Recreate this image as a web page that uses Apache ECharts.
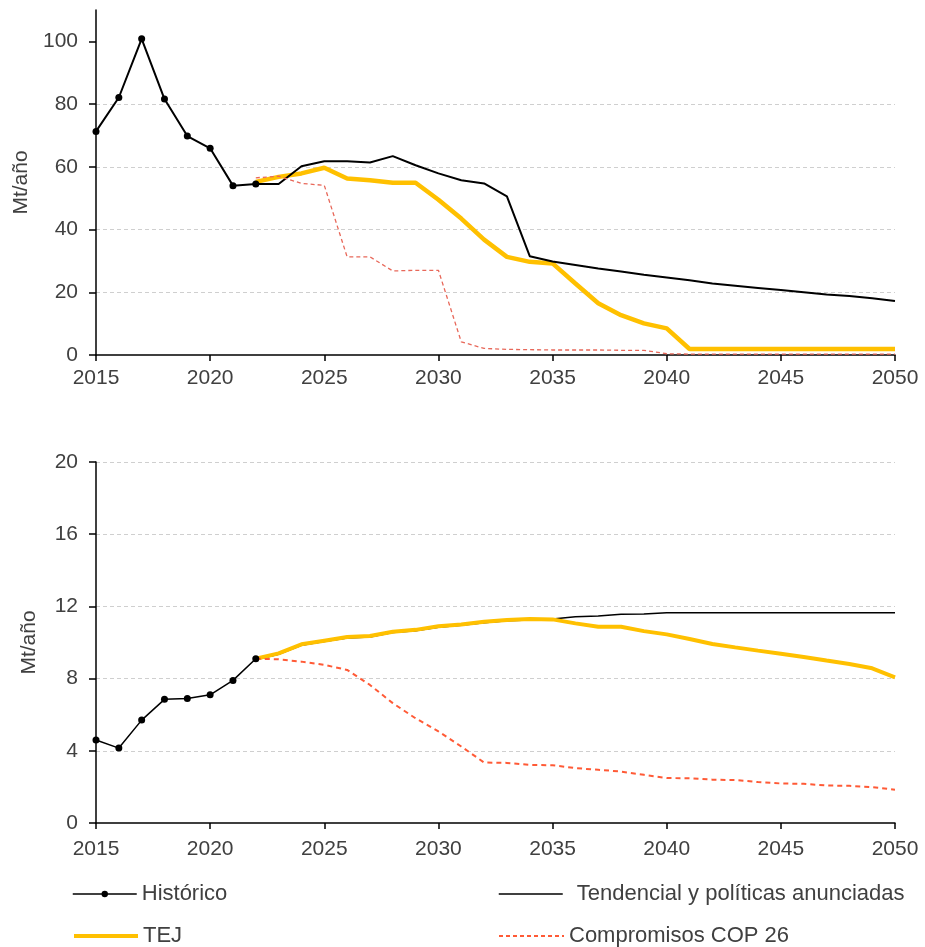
<!DOCTYPE html>
<html lang="es">
<head>
    <meta charset="UTF-8">
    <title>Mt/año</title>
    <script src="https://cdn.jsdelivr.net/npm/echarts@6/dist/echarts.min.js"></script>
</head>
<style>
    body{ margin:0; background:#fff; }
    #chart{ width:925px; height:947px; }
</style>
<body>
    <div id="chart"></div>
    <script>
        // datos grafico superior (Mt/año)
        var histYears=[2015,2016,2017,2018,2019,2020,2021,2022];
        var topHist=[71.3,82.1,100.8,81.6,69.8,65.9,54,54.5];
        // proyecciones 2022-2050
        var topTend=[54.5,54.5,60.2,61.8,61.8,61.4,63.4,60.5,57.9,55.7,54.7,50.6,31.5,29.8,
                     28.7,27.6,26.6,25.6,24.7,23.8,22.8,22.1,21.4,20.7,20.0,19.3,18.8,18.1,17.2];
        var topTej=[55.2,56.8,57.9,59.7,56.3,55.7,54.9,54.9,49.5,43.5,36.8,31.3,29.7,29.2,
                    22.8,16.5,12.7,10.1,8.5,1.9,1.9,1.9,1.9,1.9,1.9,1.9,1.9,1.9,1.9];
        var topCop=[56.5,57,54.7,54.1,31.3,31.3,26.8,27,27,4.2,2.1,1.8,1.7,1.6,
                    1.6,1.6,1.5,1.5,0.4,0.3,0.3,0.3,0.3,0.3,0.3,0.3,0.3,0.3,0.3];

        // datos grafico inferior
        var botHist=[4.6,4.15,5.7,6.85,6.9,7.1,7.9,9.1];
        var botTend=[9.05,9.35,9.85,10.05,10.25,10.3,10.55,10.65,10.85,10.95,11.1,11.2,11.25,11.3,
                     11.43,11.47,11.56,11.58,11.65,11.65,11.65,11.65,11.65,11.65,11.65,11.65,11.65,11.65,11.65];
        var botTej=[9.1,9.4,9.9,10.1,10.3,10.36,10.6,10.7,10.9,11.0,11.15,11.25,11.3,11.28,
                    11.06,10.87,10.87,10.63,10.45,10.19,9.92,9.73,9.55,9.38,9.2,9.0,8.81,8.57,8.07];
        var botCop=[9.1,9.07,8.94,8.76,8.48,7.65,6.64,5.8,5.07,4.24,3.35,3.33,3.22,3.2,
                    3.04,2.95,2.85,2.67,2.49,2.48,2.4,2.38,2.27,2.19,2.17,2.08,2.06,1.99,1.84];

        var projStart=2022;
        var font='Liberation Sans, Arial, sans-serif';
        var txtColor='#404040';

        function pairs(start,vals){
            return vals.map(function(v,i){ return [start+i,v]; });
        }
        function xAx(idx,margin){
            return {
                gridIndex:idx, type:'value', min:2015, max:2050, interval:5,
                axisLine:{ onZero:false, lineStyle:{ color:'#000', width:1.5 } },
                axisTick:{ show:true, length:6, lineStyle:{ color:'#000', width:1.5 } },
                axisLabel:{ color:txtColor, fontSize:21, fontFamily:font, margin:margin,
                            formatter:function(v){ return String(v); } },
                splitLine:{ show:false }
            };
        }
        function yAx(idx,max,step,ticks){
            return {
                gridIndex:idx, type:'value', min:0, max:max, interval:step,
                name:'Mt/año', nameLocation:'middle', nameGap:56,
                nameTextStyle:{ color:txtColor, fontSize:21, fontFamily:font },
                axisLine:{ show:true, lineStyle:{ color:'#000', width:1.5 } },
                axisTick:{ show:true, length:7, customValues:ticks, lineStyle:{ color:'#000', width:1.5 } },
                axisLabel:{ color:txtColor, fontSize:21, fontFamily:font, margin:18, customValues:ticks },
                splitLine:{ show:true, showMinLine:false, showMaxLine:max==20, lineStyle:{ color:'#cfcfcf', type:[4,3], width:1 } }
            };
        }
        var legText={ color:txtColor, fontSize:22, fontFamily:font };
        var noDot={ opacity:0 };

        var chart=echarts.init(document.getElementById('chart'));
        chart.setOption({
            animation:false,
            grid:[
                { left:96, right:30, top:10, height:345 },
                { left:96, right:30, top:462, height:361 }
            ],
            xAxis:[xAx(0,13),xAx(1,16)],
            yAxis:[
                yAx(0,110,20,[0,20,40,60,80,100]),
                yAx(1,20,4,[0,4,8,12,16,20])
            ],
            legend:[
                { left:72, top:883, padding:0, itemWidth:64, itemHeight:8, itemGap:0, textStyle:legText,
                  data:[{ name:'Histórico', lineStyle:{ color:'#000', width:1.5 } }] },
                { left:72, top:925, padding:0, itemWidth:64, itemHeight:12, itemGap:0, textStyle:legText,
                  data:[{ name:'TEJ', itemStyle:noDot, lineStyle:{ color:'#FFC000', width:4 } }] },
                { left:498, top:883, padding:0, itemWidth:64, itemHeight:12, itemGap:0,
                  textStyle:{ color:txtColor, fontSize:22, fontFamily:font, padding:[0,0,0,9] },
                  data:[{ name:'Tendencial y políticas anunciadas', itemStyle:noDot, lineStyle:{ color:'#000', width:1.5 } }] },
                { left:498, top:925, padding:0, itemWidth:65, itemHeight:12, itemGap:0, textStyle:legText,
                  data:[{ name:'Compromisos COP 26', itemStyle:noDot, lineStyle:{ color:'#FF5A36', width:2, type:[4,3] } }] }
            ],
            series:[
                // grafico superior
                { name:'TEJ', type:'line', xAxisIndex:0, yAxisIndex:0, symbol:'none',
                  lineStyle:{ color:'#FFC000', width:4.5 }, itemStyle:{ color:'#FFC000' },
                  data:pairs(projStart,topTej) },
                { name:'Tendencial y políticas anunciadas', type:'line', xAxisIndex:0, yAxisIndex:0, symbol:'none',
                  lineStyle:{ color:'#000', width:2 }, itemStyle:{ color:'#000' },
                  data:pairs(projStart,topTend) },
                { name:'Compromisos COP 26', type:'line', xAxisIndex:0, yAxisIndex:0, symbol:'none',
                  lineStyle:{ color:'#E8685A', width:1.3, type:[4,3] }, itemStyle:{ color:'#FF5A36' },
                  data:pairs(projStart,topCop) },
                { name:'Histórico', type:'line', xAxisIndex:0, yAxisIndex:0, symbol:'circle', symbolSize:7,
                  lineStyle:{ color:'#000', width:2 }, itemStyle:{ color:'#000' },
                  data:histYears.map(function(y,i){ return [y,topHist[i]]; }) },

                // grafico inferior
                { name:'Tendencial y políticas anunciadas', type:'line', xAxisIndex:1, yAxisIndex:1, symbol:'none',
                  lineStyle:{ color:'#000', width:1.5 }, itemStyle:{ color:'#000' },
                  data:pairs(projStart,botTend) },
                { name:'TEJ', type:'line', xAxisIndex:1, yAxisIndex:1, symbol:'none',
                  lineStyle:{ color:'#FFC000', width:4 }, itemStyle:{ color:'#FFC000' },
                  data:pairs(projStart,botTej) },
                { name:'Compromisos COP 26', type:'line', xAxisIndex:1, yAxisIndex:1, symbol:'none',
                  lineStyle:{ color:'#FF5A36', width:2, type:[5,4] }, itemStyle:{ color:'#FF5A36' },
                  data:pairs(projStart,botCop) },
                { name:'Histórico', type:'line', xAxisIndex:1, yAxisIndex:1, symbol:'circle', symbolSize:7,
                  lineStyle:{ color:'#000', width:1.5 }, itemStyle:{ color:'#000' },
                  data:histYears.map(function(y,i){ return [y,botHist[i]]; }) }
            ]
        });
    </script>
</body>
</html>
